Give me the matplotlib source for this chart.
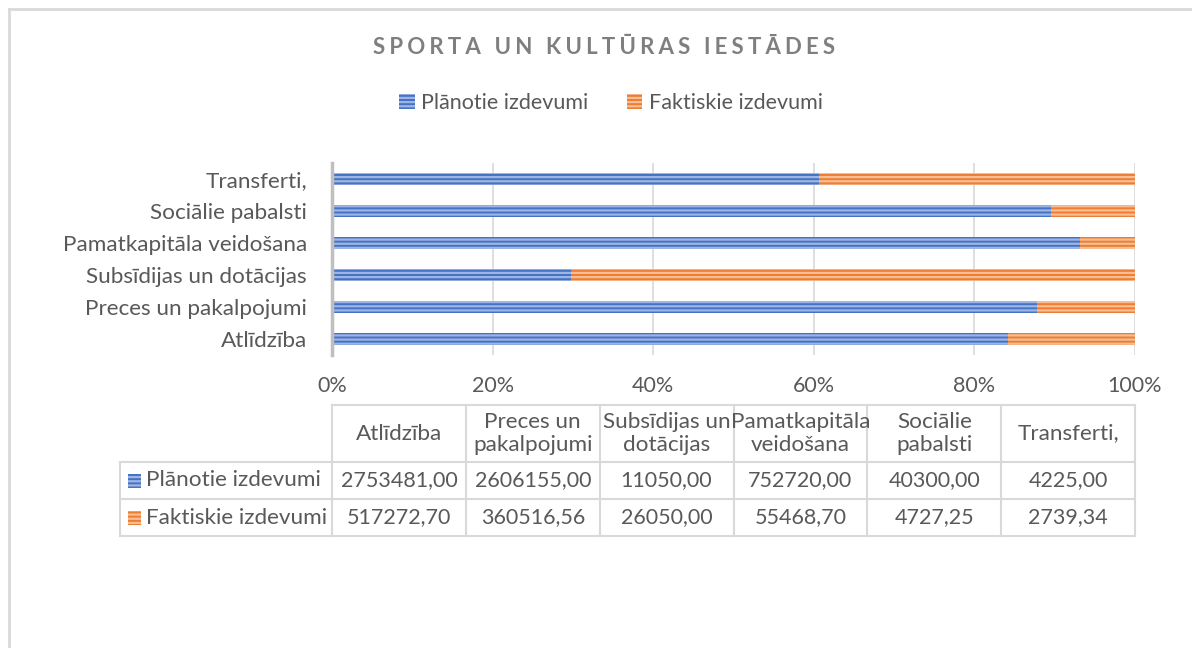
import numpy as np
import matplotlib
matplotlib.use('Agg')
import matplotlib.pyplot as plt
from matplotlib.patches import Patch, Rectangle
from matplotlib.lines import Line2D

# ------------------------------ data ------------------------------
categories = ['Atlīdzība', 'Preces un pakalpojumi', 'Subsīdijas un dotācijas',
              'Pamatkapitāla veidošana', 'Sociālie pabalsti', 'Transferti,']
header_labels = ['Atlīdzība', 'Preces un\npakalpojumi', 'Subsīdijas un\ndotācijas',
                 'Pamatkapitāla\nveidošana', 'Sociālie\npabalsti', 'Transferti,']
planned = [2753481.00, 2606155.00, 11050.00, 752720.00, 40300.00, 4225.00]
actual = [517272.70, 360516.56, 26050.00, 55468.70, 4727.25, 2739.34]
series_names = ['Plānotie izdevumi', 'Faktiskie izdevumi']
title = 'SPORTA UN KULTŪRAS IESTĀDES'

# ------------------------------ style ------------------------------
plt.rcParams['font.family'] = ['Lato', 'DejaVu Sans']
plt.rcParams['hatch.linewidth'] = 1.6
txt_col = '#595959'
grid_col = '#D9D9D9'
blue, blue_l = '#4472C4', '#9DB5E3'
orange, orange_l = '#ED7D31', '#F7BE96'
fs = 15.5      # numbers
fs_lab = 16.2  # word labels

W, H = 1192, 648
def fx(px):
    return px / W
def fy(py):
    return 1 - py / H

fig = plt.figure(figsize=(W / 100, H / 100), dpi=100)

# outer chart border (cropped on the right and bottom)
fig.add_artist(Line2D([fx(9), 1], [fy(9), fy(9)], color=grid_col, lw=2))
fig.add_artist(Line2D([fx(9), fx(9)], [fy(9), 0], color=grid_col, lw=2))

# ------------------------------ bars ------------------------------
ax = fig.add_axes([fx(332), fy(355), fx(1135) - fx(332), fy(163) - fy(355)])
planned_a = np.array(planned)
actual_a = np.array(actual)
tot = planned_a + actual_a
p_share = planned_a / tot
a_share = actual_a / tot
y = np.arange(len(categories))

ax.barh(y, p_share, height=0.4, color=blue, edgecolor=blue_l, lw=0, hatch='----', zorder=3)
ax.barh(y, a_share, left=p_share, height=0.4, color=orange, edgecolor=orange_l, lw=0,
        hatch='----', zorder=3)

ax.set_xlim(0, 1)
ax.set_ylim(-0.5, len(categories) - 0.5)
ax.set_xticks(np.linspace(0, 1, 6))
ax.set_xticklabels([f'{int(round(v * 100))}%' for v in np.linspace(0, 1, 6)])
ax.set_yticks(y)
ax.set_yticklabels(categories)
ax.tick_params(length=0, labelsize=fs, colors=txt_col)
ax.tick_params(axis='y', pad=18, labelsize=fs_lab)
ax.tick_params(axis='x', pad=15)
ax.grid(axis='x', color=grid_col, lw=1.2, zorder=0)
for s in ['top', 'right', 'bottom']:
    ax.spines[s].set_visible(False)
ax.spines['left'].set_color('#BFBFBF')
ax.spines['left'].set_linewidth(2.5)
ax.spines['left'].set_zorder(4)

# ------------------------------ title & legend ------------------------------
fig.text(fx(604), fy(47), '\u2009\u200a'.join(title), ha='center', va='center',
         fontsize=16, fontweight='bold', color='#7F7F7F')
handles = [Patch(facecolor=blue, edgecolor=blue_l, lw=0, hatch='----'),
           Patch(facecolor=orange, edgecolor=orange_l, lw=0, hatch='----')]
fig.legend(handles, series_names, loc='center', bbox_to_anchor=(fx(611), fy(103)), ncol=2,
           frameon=False, fontsize=fs, labelcolor=txt_col, handlelength=0.7,
           handleheight=0.7, handletextpad=0.3, columnspacing=1.8)

# ------------------------------ data table ------------------------------
col_edges = np.linspace(332, 1135, len(categories) + 1)
row_edges = [405, 462, 499, 536]
lab_left = 120

def hline(x0, x1, yy):
    fig.add_artist(Line2D([fx(x0), fx(x1)], [fy(yy), fy(yy)], color=grid_col, lw=1.5))

def vline(xx, y0, y1):
    fig.add_artist(Line2D([fx(xx), fx(xx)], [fy(y0), fy(y1)], color=grid_col, lw=1.5))

hline(col_edges[0], col_edges[-1], row_edges[0])
for r in row_edges[1:]:
    hline(lab_left, col_edges[-1], r)
for c in col_edges:
    vline(c, row_edges[0], row_edges[-1])
vline(lab_left, row_edges[1], row_edges[-1])

for i, lab in enumerate(header_labels):
    cx = (col_edges[i] + col_edges[i + 1]) / 2
    fig.text(fx(cx), fy((row_edges[0] + row_edges[1]) / 2), lab, ha='center', va='center',
             fontsize=fs_lab, color=txt_col, linespacing=1.15)

series_vals = [planned, actual]
sq_cols = [(blue, blue_l), (orange, orange_l)]
for r, vals in enumerate(series_vals):
    cy = (row_edges[r + 1] + row_edges[r + 2]) / 2
    fc, ec = sq_cols[r]
    fig.add_artist(Rectangle((fx(128), fy(cy + 7)), fx(141) - fx(128), fy(cy - 7) - fy(cy + 7),
                             facecolor=fc, edgecolor=ec, lw=0, hatch='----'))
    fig.text(fx(146), fy(cy), series_names[r], ha='left', va='center', fontsize=fs_lab,
             color=txt_col)
    for i, v in enumerate(vals):
        cx = (col_edges[i] + col_edges[i + 1]) / 2
        fig.text(fx(cx), fy(cy), f'{v:.2f}'.replace('.', ','), ha='center', va='center',
                 fontsize=fs, color=txt_col)

fig.savefig('out.png', dpi=100)
